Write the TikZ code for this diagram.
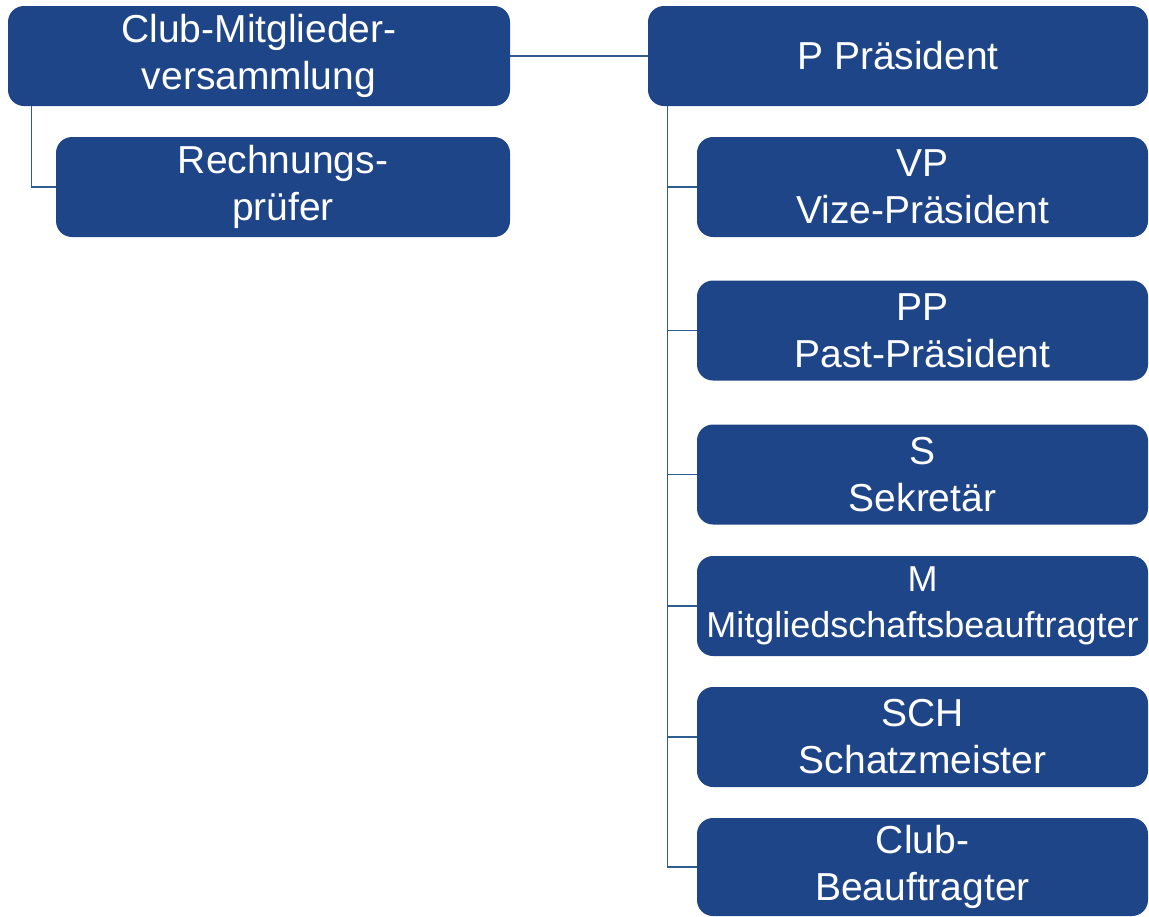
\documentclass[tikz,border=0pt]{standalone}
\usepackage{fontspec}
\setmainfont{Liberation Sans}
\definecolor{boxblue}{HTML}{1F4589}
\definecolor{linkblue}{HTML}{2F5D91}
\tikzset{
  orgbox/.style={fill=boxblue, rounded corners=16pt, text=white, align=center,
    inner sep=2pt, minimum height=100pt, font=\fontsize{39}{47}\selectfont},
  linkline/.style={draw=linkblue, line width=1.2pt},
}

\begin{document}
\begin{tikzpicture}[x=1pt,y=-1pt]
			%%%%% START %%%%%
			\useasboundingbox (0,0) rectangle (1149,916);
			
			\node[orgbox, minimum width=502pt] (cmv) at (259,56) {Club-Mitglieder-\\versammlung};
			\node[orgbox, minimum width=500pt] (pres) at (898,56) {P Präsident};
			
			\node[orgbox, minimum width=454pt] (rp) at (283,187) {Rechnungs-\\prüfer};
			
			\node[orgbox, minimum width=451pt] (vp) at (922.5,187) {VP\\Vize-Präsident};
			\node[orgbox, minimum width=451pt] (pp) at (922.5,330.5) {PP\\Past-Präsident};
			\node[orgbox, minimum width=451pt] (sek) at (922.5,474.5) {S\\Sekretär};
			\node[orgbox, minimum width=451pt, font=\fontsize{36}{46}\selectfont] (mit) at (922.5,606) {M\\Mitgliedschaftsbeauftragter};
			\node[orgbox, minimum width=451pt] (sch) at (922.5,737) {SCH\\Schatzmeister};
			\node[orgbox, minimum width=451pt, minimum height=98pt] (cb) at (922.5,867) {Club-\\Beauftragter};
			
			\draw[linkline] (cmv.east) -- (pres.west);
			\draw[linkline] ([xshift=24pt]cmv.south west) |- (rp.west);
			
			\coordinate (trunk) at ([xshift=20pt]pres.south west);
			\draw[linkline] (trunk) |- (cb.west);
			\foreach \n in {vp,pp,sek,mit,sch}
				\draw[linkline] (\n.west) -- (\n.west -| trunk);
			
			%%%%% END %%%%%
\end{tikzpicture}
\end{document}
